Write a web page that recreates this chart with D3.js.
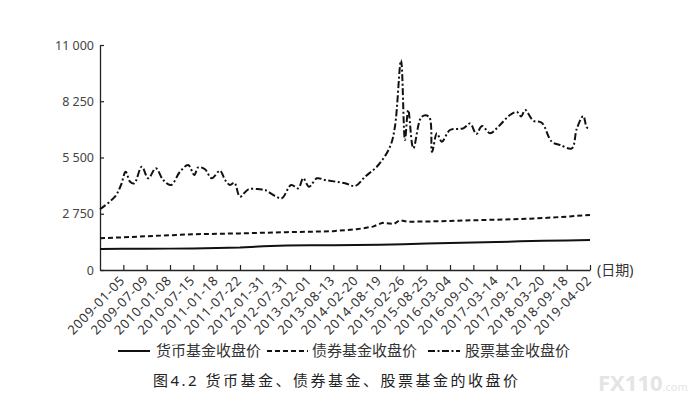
<!DOCTYPE html>
<html lang="zh">

<head>
    <meta charset="UTF-8">
    <title>fund-close</title>
    <script src="https://cdn.jsdelivr.net/npm/d3@7"></script>
    <style>
        body { margin: 0; background: #fff; }
        text { font-family: "Noto Sans", "Noto Sans CJK SC", sans-serif; }
    </style>
</head>

<body>
    <svg width="692" height="402" id="mainsvg"></svg>
    <script>
        // tick labels
        const dateLabels = ["2009-01-05", "2009-07-09", "2010-01-08", "2010-07-15", "2011-01-18", "2011-07-22",
            "2012-01-31", "2012-07-31", "2013-02-01", "2013-08-13", "2014-02-20", "2014-08-19", "2015-02-26",
            "2015-08-25", "2016-03-04", "2016-09-01", "2017-03-14", "2017-09-12", "2018-03-20", "2018-09-18", "2019-04-02"];
        const yTicks = [0, 2750, 5500, 8250, 11000];
        const yTickLabels = ["0", "2 750", "5 500", "8 250", "11 000"];
        const seriesNames = ["货币基金收盘价", "债券基金收盘价", "股票基金收盘价"];

        // positions are in date-tick units (tick k sits at k, 0 = start of axis)
        const moneyPos = [0, 1, 2, 3, 4, 5, 6, 7, 8, 9, 10, 11, 12, 13, 14, 15, 16, 17, 18, 19, 20, 21];
        const moneyVal = [1030, 1035, 1040, 1045, 1055, 1070, 1100, 1160, 1200, 1210, 1215, 1225, 1240, 1260,
            1290, 1320, 1345, 1370, 1400, 1425, 1445, 1465];

        const bondPos = [0, 1, 2, 3, 4, 5, 6, 7, 8, 9, 10, 11, 11.7, 12.1, 12.6, 12.85, 13.2, 14, 15, 16, 17, 18, 19, 20, 21];
        const bondVal = [1550, 1600, 1650, 1700, 1750, 1770, 1790, 1820, 1850, 1870, 1900, 1990, 2120, 2310, 2250,
            2440, 2360, 2370, 2400, 2430, 2460, 2490, 2540, 2610, 2690];

        const stockPos = [0, 0.64, 0.9, 1.1, 1.29, 1.47, 1.79, 2.07, 2.39, 2.71, 3.04, 3.43, 3.78, 4.04, 4.21, 4.5,
            4.79, 5.14, 5.36, 5.57, 5.76, 6.0, 6.36, 6.86, 7.07, 7.5, 7.79, 8.19, 8.5, 8.71, 8.96, 9.3, 9.64,
            10.5, 10.93, 11.36, 11.93, 12.43, 12.64, 12.9, 13.07, 13.21, 13.43, 13.79, 14.1, 14.23, 14.44, 14.65,
            15.0, 15.57, 15.86, 16.13, 16.37, 16.72, 17.07, 17.57, 17.87, 18.05, 18.22, 18.57, 18.93, 19.36,
            19.72, 20.22, 20.43, 20.71, 20.87, 21];
        const stockVal = [2970, 3585, 4155, 4806, 4317, 4237, 5050, 4483, 4972, 4400, 4155, 4806, 5133, 4644, 5020, 4923,
            4483, 4855, 4400, 4155, 4269, 3585, 3944, 3944, 3911, 3618, 3505, 4155, 3994, 4483, 4073, 4483, 4400,
            4239, 4106, 4561, 5133, 6028, 7006, 10250, 6355, 7822, 5949, 7495, 7495, 5769, 6683, 6273,
            6844, 6926, 7162, 6649, 7040, 6683, 7006, 7578, 7724, 7505, 7822, 7299, 7201, 6273,
            6111, 5949, 6893, 7529, 6966, 6942];

        const svg = d3.select('#mainsvg');
        const xScale = d3.scaleLinear().domain([0, 21]).range([100, 590]);
        const yScale = d3.scaleLinear().domain([0, 11000]).range([270, 45]);

        const styles = [
            { dash: null },
            { dash: '5,3' },
            { dash: '7,2.5,2,2.5' }
        ];

        // x axis
        const xAxis = d3.axisBottom(xScale)
            .tickValues(d3.range(1, 22))
            .tickFormat(d => dateLabels[d - 1])
            .tickSizeInner(-5).tickSizeOuter(0);
        const gx = svg.append('g').attr('transform', 'translate(0,270)').call(xAxis);
        gx.select('.domain').attr('stroke', '#222').attr('stroke-width', 1.3);
        gx.selectAll('.tick line').attr('stroke', '#222').attr('stroke-width', 1.2);
        gx.selectAll('.tick text')
            .attr('font-size', 13).attr('fill', '#333')
            .attr('letter-spacing', '0.8px')
            .attr('text-anchor', 'end')
            .attr('y', 0).attr('dy', 0)
            .attr('transform', 'translate(2,11) rotate(-46)');

        // y axis
        const yAxis = d3.axisLeft(yScale)
            .tickValues(yTicks)
            .tickFormat((d, i) => yTickLabels[i])
            .tickSizeInner(-4).tickSizeOuter(0).tickPadding(6);
        const gy = svg.append('g').attr('transform', 'translate(100,0)').call(yAxis);
        gy.select('.domain').attr('stroke', '#222').attr('stroke-width', 1.3);
        gy.selectAll('.tick line').attr('stroke', '#222').attr('stroke-width', 1.2);
        gy.selectAll('.tick text').attr('font-size', 12.5).attr('fill', '#444');

        svg.append('text').attr('x', 597).attr('y', 270).attr('dy', '0.35em')
            .attr('font-size', 14).attr('fill', '#333')
            .attr('font-family', '"Noto Sans CJK SC"')
            .text('(日期)');

        // lines
        const series = [
            d3.zip(moneyPos, moneyVal),
            d3.zip(bondPos, bondVal),
            d3.zip(stockPos, stockVal)
        ];
        const line = d3.line().x(d => xScale(d[0])).y(d => yScale(d[1]));
        series.forEach((s, i) => {
            svg.append('path')
                .attr('d', line.curve(i == 2 ? d3.curveCatmullRom.alpha(0.5) : d3.curveLinear)(s))
                .attr('fill', 'none')
                .attr('stroke', '#111')
                .attr('stroke-width', 2)
                .attr('stroke-dasharray', styles[i].dash);
        });

        // legend
        const legendX = [[118, 150, 156], [267, 308, 312], [428, 460, 465]];
        seriesNames.forEach((name, i) => {
            const lx = legendX[i];
            svg.append('line')
                .attr('x1', lx[0]).attr('x2', lx[1]).attr('y1', 351).attr('y2', 351)
                .attr('stroke', '#111').attr('stroke-width', 2)
                .attr('stroke-dasharray', styles[i].dash);
            svg.append('text').attr('x', lx[2]).attr('y', 351).attr('dy', '0.36em')
                .attr('font-family', '"Noto Sans CJK SC"')
                .attr('font-size', 15).attr('fill', '#333')
                .text(name);
        });

        // caption
        svg.append('text').attr('x', 153).attr('y', 381).attr('dy', '0.36em')
            .attr('font-family', '"Noto Sans CJK SC"')
            .attr('font-size', 15).attr('fill', '#222')
            .attr('letter-spacing', '2.5px')
            .text('图4.2 货币基金、债券基金、股票基金的收盘价');

        // watermark
        const wm = svg.append('text').attr('x', 598).attr('y', 391)
            .attr('font-family', '"Noto Sans"').attr('fill', '#e4e4e4');
        wm.append('tspan').attr('font-size', 22).attr('font-weight', 'bold').text('FX110');
        wm.append('tspan').attr('font-size', 11).text('.com');
    </script>
</body>

</html>
